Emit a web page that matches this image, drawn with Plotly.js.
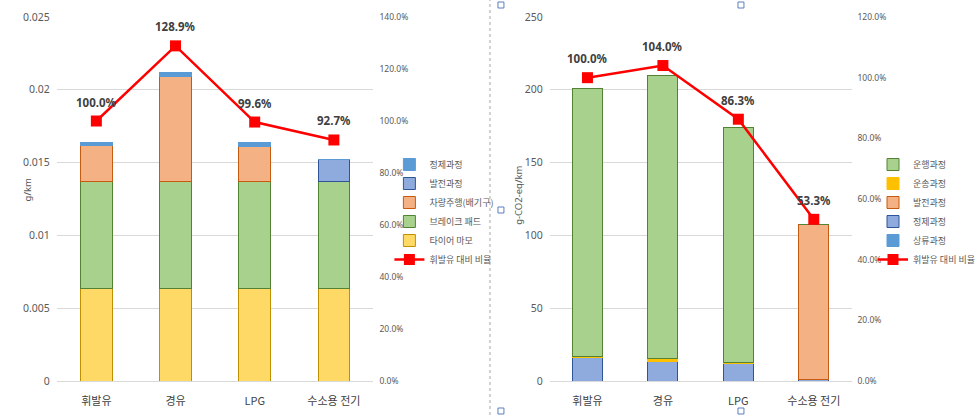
<!DOCTYPE html>
<html><head><meta charset="utf-8">
<script src="https://cdn.plot.ly/plotly-3.0.1.min.js"></script>
<style>html,body{margin:0;padding:0;background:#fff}#chart{width:980px;height:415px}</style>
</head><body><div id="chart"></div>
<script>
const categories = ['휘발유', '경유', 'LPG', '수소용 전기'];

// Left chart (g/km)
const leftTire    = [0.00635, 0.00635, 0.00635, 0.00635];
const leftBrake   = [0.00737, 0.00737, 0.00737, 0.00737];
const leftExhaust = [0.00244, 0.00722, 0.00240, 0];
const leftPower   = [0, 0, 0, 0.00151];
const leftRefine  = [0.00023, 0.00024, 0.00023, 0];
const leftRatio   = [1.000, 1.289, 0.996, 0.927];

// Right chart (g-CO2-eq/km)
const rightUpstream  = [0, 0, 0, 0];
const rightRefine    = [16.0, 13.6, 12.0, 0.7];
const rightPower     = [0, 0, 0, 106.8];
const rightTransport = [0.8, 1.8, 0.5, 0];
const rightDrive     = [184.4, 194.1, 161.6, 0];
const rightRatio     = [1.000, 1.040, 0.863, 0.533];

const FONT = "'Noto Sans', 'Noto Sans CJK KR', sans-serif";
const KFONT = "'Noto Sans CJK KR', 'Noto Sans', sans-serif";

const pct = v => (v * 100).toFixed(1) + '%';

function bar(name, y, color, line, xa, ya, legend, rank) {
  return {type: 'bar', name, x: categories, y, xaxis: xa, yaxis: ya, legend, legendrank: rank,
    marker: {color, line: {color: line, width: 1}}, hoverinfo: 'y+name'};
}
function ratioLine(y, xa, ya, legend, rank) {
  return {type: 'scatter', mode: 'lines+markers', name: '휘발유 대비 비율', x: categories, y,
    xaxis: xa, yaxis: ya, legend, legendrank: rank,
    line: {color: '#FF0000', width: 2.5},
    marker: {symbol: 'square', size: 11, color: '#FF0000'}, cliponaxis: false};
}
function ratioLabels(y, xa, ya) {
  return y.map((v, i) => ({x: categories[i], y: v, xref: xa, yref: ya, text: '<b>' + pct(v) + '</b>',
    showarrow: false, yshift: 19, font: {family: FONT, size: 11.5, color: '#404040'}}));
}

const traces = [
  bar('타이어 마모', leftTire, '#FFD966', '#BF9000', 'x', 'y', 'legend', 5),
  bar('브레이크 패드', leftBrake, '#A9D18E', '#548235', 'x', 'y', 'legend', 4),
  bar('차량주행(배기구)', leftExhaust, '#F4B183', '#C55A11', 'x', 'y', 'legend', 3),
  bar('발전과정', leftPower, '#8FAADC', '#2F5597', 'x', 'y', 'legend', 2),
  bar('정제과정', leftRefine, '#5B9BD5', '#5B9BD5', 'x', 'y', 'legend', 1),
  ratioLine(leftRatio, 'x', 'y2', 'legend', 6),

  bar('상류과정', rightUpstream, '#5B9BD5', '#5B9BD5', 'x2', 'y3', 'legend2', 5),
  bar('정제과정', rightRefine, '#8FAADC', '#2F5597', 'x2', 'y3', 'legend2', 4),
  bar('발전과정', rightPower, '#F4B183', '#C55A11', 'x2', 'y3', 'legend2', 3),
  bar('운송과정', rightTransport, '#FFC000', '#FFC000', 'x2', 'y3', 'legend2', 2),
  bar('운행과정', rightDrive, '#A9D18E', '#548235', 'x2', 'y3', 'legend2', 1),
  ratioLine(rightRatio, 'x2', 'y4', 'legend2', 6),
];

const W = 980, H = 415;
const px = v => v / W;
const py = v => (H - v) / H;
const yDom = [py(381), py(17)];

const catAxis = dom => ({domain: dom, showgrid: false, showline: false, ticks: '',
  tickfont: {family: KFONT, size: 11, color: '#404040'}, ticklabelstandoff: 12, fixedrange: true});
const valAxis = (anchor, range, dtick) => ({domain: yDom, anchor, range, dtick, showline: false, ticks: '',
  gridcolor: '#D9D9D9', gridwidth: 1, zeroline: true, zerolinecolor: '#D9D9D9', zerolinewidth: 1,
  tickfont: {family: FONT, size: 10.5, color: '#595959'}, ticklabelstandoff: 6});
const pctAxis = (anchor, overlay, range) => ({anchor, overlaying: overlay, side: 'right', range, dtick: 0.2,
  tickformat: '.1%', showgrid: false, zeroline: false, showline: false, ticks: '',
  tickfont: {family: FONT, size: 8.5, color: '#595959'}, ticklabelstandoff: 5});

const handle = (cx, cy) => ({type: 'rect', xref: 'paper', yref: 'paper',
  x0: px(cx - 3), x1: px(cx + 3), y0: py(cy + 3), y1: py(cy - 3),
  line: {color: '#5B7FBF', width: 1}, fillcolor: '#FFFFFF'});

const axisTitle = (text, x, y) => ({xref: 'paper', yref: 'paper', x: px(x), y: py(y), text, textangle: -90,
  showarrow: false, font: {family: FONT, size: 9.5, color: '#595959'}});

const layout = {
  width: W, height: H, margin: {l: 0, r: 0, t: 0, b: 0},
  paper_bgcolor: '#FFFFFF', plot_bgcolor: '#FFFFFF',
  barmode: 'stack', bargap: 0.6, showlegend: true,
  xaxis: catAxis([px(57), px(375)]),
  yaxis: valAxis('x', [0, 0.025], 0.005),
  yaxis2: pctAxis('x', 'y', [0, 1.4]),
  xaxis2: Object.assign(catAxis([px(552), px(855)]), {anchor: 'y3'}),
  yaxis3: valAxis('x2', [0, 250], 50),
  yaxis4: pctAxis('x2', 'y3', [0, 1.2]),
  legend: {x: px(391), y: py(150), xanchor: 'left', yanchor: 'top', bgcolor: 'rgba(0,0,0,0)',
    font: {family: KFONT, size: 9, color: '#595959'}, traceorder: 'normal', itemclick: false},
  legend2: {x: px(877), y: py(150), xanchor: 'left', yanchor: 'top', bgcolor: 'rgba(0,0,0,0)',
    font: {family: KFONT, size: 9, color: '#595959'}, traceorder: 'normal', itemclick: false},
  annotations: [
    ...ratioLabels(leftRatio, 'x', 'y2'),
    ...ratioLabels(rightRatio, 'x2', 'y4'),
    axisTitle('g/km', 19, 190),
    axisTitle('g-CO2-eq/km', 521, 195)
  ],
  shapes: [
    {type: 'line', xref: 'paper', yref: 'paper', x0: px(492), x1: px(492), y0: 0, y1: 1,
      line: {color: '#A6A6A6', width: 1, dash: 'dot'}},
    handle(503, 5), handle(744, 5), handle(503, 210), handle(503, 411), handle(744, 411)
  ]
};

Plotly.newPlot('chart', traces, layout, {displayModeBar: false, staticPlot: true});
</script>
</body></html>
